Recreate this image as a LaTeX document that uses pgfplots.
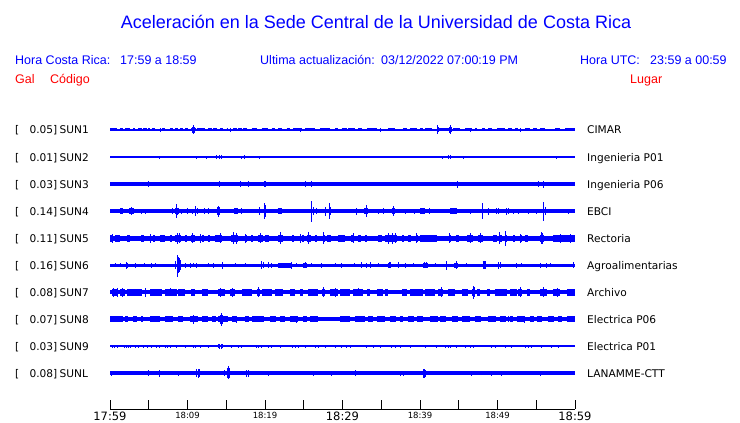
\documentclass[border=0pt]{standalone}
\usepackage{pgfplots}
\pgfplotsset{compat=1.18}
\usepackage{fontspec}
\setmainfont{Liberation Sans}
\newfontfamily\dv{DejaVu Sans}
\newcommand{\fs}[1]{\fontsize{#1}{#1}\selectfont}
\pgfplotsset{
  base/.style={blue, line width=#1, no marks},
  spk/.style={draw=none, no marks, error bars/.cd, y dir=both, y explicit, error mark=none, error bar style={line width=1pt, draw=blue}},
  blk/.style={draw=none, no marks, error bars/.cd, x dir=plus, x explicit, error mark=none, error bar style={line width=#1, draw=blue}},
}
\tikzset{lbl/.style={font=\dv\fs{10.6}, inner sep=0pt, text=black}}
\newcommand{\lab}[4]{%
  \node[lbl, anchor=base west] at (axis cs:15,#1) {[};
  \node[lbl, anchor=base east] at (axis cs:57.5,#1) {#2]};
  \node[lbl, anchor=base west] at (axis cs:59.5,#1) {#3};
  \node[lbl, anchor=base west] at (axis cs:587,#1) {#4};}
\begin{document}
\begin{tikzpicture}
\useasboundingbox (0,0) rectangle (740pt,423pt);
\begin{axis}[at={(0,0)}, anchor=south west, scale only axis, width=740pt, height=423pt,
  xmin=0, xmax=740, ymin=0, ymax=423, y dir=reverse, hide axis, clip=false]
% ---------- SUN1 ----------
\addplot[base=1.2pt] coordinates {(110,130) (575,130)};
\addplot[blk=3pt] table[row sep=\\, x index=0, y expr=130, x error index=1] {
110 6.7\\ 120 3.3\\ 125 5\\ 133.3 1.7\\ 138.3 3.4\\ 143.3 3.4\\ 148.3 1.7\\ 151.7 3.3\\ 161.7 3.3\\ 170 3.3\\ 175 3.3\\ 180 3.3\\ 185 3.3\\ 191 5\\ 196.7 8.3\\ 208.3 3.4\\ 213.3 3.4\\ 220 3.3\\ 226.7 1.6\\ 233.3 3.4\\ 238.3 3.4\\ 243.3 3.4\\ 251.7 5\\ 261.7 6.6\\ 271.7 3.3\\ 278.3 3.4\\ 286.7 3.3\\ 293.3 8.4\\ 305 10\\ 320 10\\ 335 3.3\\ 341.7 5\\ 348 7\\ 358 4\\ 367 10\\ 388 7\\ 403 4\\ 410 7\\ 420 3\\ 425 7\\ 437 13\\ 453 7\\ 465 7\\ 475 2\\ 482 3\\ 488 4\\ 497 8\\ 508 4\\ 515 3\\ 525 5\\ 533 4\\ 540 5\\ 555 5\\ 565 8\\ 572 3\\
};
\addplot[spk] table[row sep=\\, x index=0, y expr=130, y error index=1] {
192 3\\ 193.3 4.5\\ 194.5 3\\ 437.3 4.5\\ 438.5 2.5\\ 449 3\\ 450 4.5\\ 451 2.5\\ 160 2\\ 230 2\\ 300 2\\ 380 2\\ 470 2\\ 520 2\\
};
% ---------- SUN2 ----------
\addplot[base=1.2pt] coordinates {(110,157) (575,157)};
\addplot[spk] table[row sep=\\, x index=0, y expr=157, y error index=1] {
159.3 1.5\\ 196 1.5\\ 206.3 1.5\\ 216.3 2\\ 219 2\\ 221.7 2\\ 241.7 1.5\\ 244.3 2\\ 259.3 1.5\\ 442.3 1.5\\ 448.3 2\\ 450 2\\ 463.3 1.5\\ 556.7 1.5\\
};
% ---------- SUN3 ----------
\addplot[base=4pt] coordinates {(110,184) (575,184)};
\addplot[spk] table[row sep=\\, x index=0, y expr=184, y error index=1] {
148.3 3\\ 219.3 3\\ 240.3 3\\ 248.3 3\\ 264.5 3\\ 265.5 3\\ 305 3\\ 311.7 3.2\\ 457.3 3.5\\ 538.3 3\\ 543.3 3.5\\
};
% ---------- SUN4 ----------
\addplot[base=3.5pt] coordinates {(110,211) (575,211)};
\addplot[blk=6pt] table[row sep=\\, x index=0, y expr=211, x error index=1] {
120 3.3\\ 129 4.5\\ 175 4\\ 234 4\\ 277.7 4\\ 364 4.3\\ 392 2.5\\ 420 5\\ 450 6.7\\
};
\addplot[spk] table[row sep=\\, x index=0, y expr=211, y error index=1] {
131.7 4\\ 141.7 2.5\\ 145 2.5\\ 158.3 2\\ 161.7 2\\ 172.7 3\\ 176 7\\ 177.5 3.5\\ 181.7 2.5\\ 187.7 3\\ 192.3 2.5\\ 195.7 5\\ 197.3 3\\ 204 3\\ 208.3 3\\ 217 4\\ 218.3 5.5\\ 219.5 4\\ 241.7 3\\ 259.7 4\\ 264.3 8\\ 265.5 6\\ 289.3 2\\ 311.7 10.5\\ 313.3 4\\ 316.7 3\\ 325 4.5\\ 329 8\\ 330.5 4\\ 356.7 3.5\\ 366.7 6\\ 378.3 2.5\\ 383.3 3\\ 393.3 5\\ 405 2.5\\ 414 2.5\\ 429.3 3\\ 470.7 2.5\\ 482.3 8\\ 488.3 3.5\\ 496.7 3\\ 498.3 3\\ 506.7 3.5\\ 508.3 3\\ 513.3 2.5\\ 518.3 2.5\\ 528.3 2.5\\ 536.7 2.5\\ 543.3 9.5\\ 545 4\\ 553.3 2\\ 560 2\\ 568.3 2.5\\
};
% ---------- SUN5 ----------
\addplot[base=5pt] coordinates {(110,238) (575,238)};
\addplot[blk=7pt] table[row sep=\\, x index=0, y expr=238, x error index=1] {
110 2\\ 115 5\\ 127 3\\ 141 3\\ 153 2\\ 160 5\\ 170 2\\ 175 6\\ 185 2\\ 191 4\\ 202 2\\ 208 2\\ 215 7\\ 231 7\\ 245 2\\ 251 2\\ 258 5\\ 265 4\\ 278 5\\ 292 2\\ 302 2\\ 307 4\\ 315 2\\ 323 2\\ 327 4\\ 338 3\\ 340 5\\ 351 3\\ 358 3\\ 365 2\\ 378 4\\ 385 12\\ 402 2\\ 408 3\\ 416 2\\ 420 17\\ 449 2\\ 456 3\\ 467 6\\ 478 5\\ 493 4\\ 499 3\\ 505 2\\ 513 2\\ 520 2\\ 525 3\\ 540 4\\ 553 22\\
};
\addplot[spk] table[row sep=\\, x index=0, y expr=238, y error index=1] {
112 4.5\\ 150 4.5\\ 177 5.5\\ 179 5\\ 192 5\\ 200 4.5\\ 220 5\\ 233 6\\ 236 5.5\\ 245 4.5\\ 260 5\\ 280 6\\ 300 4.5\\ 308 6\\ 323 6\\ 353 5\\ 388 5.5\\ 392 5.5\\ 395 5\\ 416 5\\ 449 5\\ 470 5\\ 480 5\\ 499.3 6\\ 505 7.5\\ 520 4.5\\ 541 6\\ 542.5 5.5\\ 560 4.5\\ 570 4.5\\
};
% ---------- SUN6 ----------
\addplot[base=3pt] coordinates {(110,265) (575,265)};
\addplot[blk=5pt] table[row sep=\\, x index=0, y expr=265, x error index=1] {
125.5 2.5\\ 278 14\\ 303 4\\ 388 3\\ 423 5\\ 454 4\\
};
\addplot[blk=8pt] table[row sep=\\, x index=0, y expr=265, x error index=1] {
482.7 3.3\\
};
\addplot[spk] table[row sep=\\, x index=0, y expr=265, y error index=1] {
115.7 2\\ 120 2\\ 126.7 3.5\\ 135 2.5\\ 144.3 2\\ 151 2.5\\ 155 2\\ 175.7 4\\ 178.3 8\\ 179 7\\ 180.3 5\\ 185 2.5\\ 190 2.5\\ 193.3 2\\ 196.7 2.5\\ 208.3 2\\ 213.3 2.5\\ 222.3 3.5\\ 235 2\\ 245 2\\ 261.7 4\\ 263 3\\ 268.3 3\\ 271.7 2.5\\ 291 3.5\\ 296.7 2\\ 305 3\\ 311.7 2\\ 321 2.5\\ 335 2\\ 341.7 2.5\\ 354 2\\ 361.7 3\\ 366 2.5\\ 370.7 3\\ 378.3 2\\ 389 3\\ 390.5 3\\ 398.3 3\\ 405 2.5\\ 413.3 2\\ 424 3\\ 426 3\\ 435.7 2\\ 446 4.5\\ 456 4\\ 466.7 2\\ 498.3 3.5\\ 500 3\\ 516.7 2.5\\ 521.7 2\\ 540 2.5\\ 546 2.5\\ 550.7 2\\ 573.3 3\\
};
\addplot[spk] coordinates {(177.3,266) +- (0,11)};
% ---------- SUN7 ----------
\addplot[base=4pt] coordinates {(110,292) (575,292)};
\addplot[blk=7pt] table[row sep=\\, x index=0, y expr=292, x error index=1] {
112 6\\ 120 5\\ 127 15\\ 145 1\\ 150 12\\ 165 12\\ 178 7\\ 191 4\\ 202 6\\ 218 7\\ 230 5\\ 242 10\\ 257 3\\ 262 10\\ 275 8\\ 290 5\\ 300 3\\ 308 10\\ 322 3\\ 330 8\\ 340 10\\ 353 10\\ 367 3\\ 377 6\\ 385 3\\ 402 5\\ 410 13\\ 425 10\\ 438 5\\ 448 7\\ 462 6\\ 472 3\\ 477 3\\ 487 3\\ 495 12\\ 510 7\\ 518 4\\ 527 3\\ 540 7\\ 553 7\\ 567 8\\
};
\addplot[spk] table[row sep=\\, x index=0, y expr=292, y error index=1] {
113 4.5\\ 117 4.5\\ 122 4.5\\ 145 4.5\\ 170 4\\ 220 4.5\\ 232 4.5\\ 258 5\\ 323 5\\ 335 4.5\\ 358 4\\ 441.7 5\\ 473.3 6.5\\ 474.5 5\\ 520 5\\ 543 5\\ 557 4.5\\
};
% ---------- SUN8 ----------
\addplot[base=4pt] coordinates {(110,319) (575,319)};
\addplot[blk=5.5pt] table[row sep=\\, x index=0, y expr=319, x error index=1] {
110 13\\ 125 3\\ 133 4\\ 141 2\\ 150 10\\ 165 8\\ 178 5\\ 190 8\\ 202 6\\ 212 4\\ 218 10\\ 232 4\\ 245 4\\ 252 12\\ 270 6\\ 280 5\\ 290 8\\ 303 4\\ 310 8\\ 340 10\\ 355 10\\ 368 5\\ 377 8\\ 390 6\\ 400 3\\ 408 6\\ 417 6\\ 430 8\\ 440 6\\ 452 6\\ 462 8\\ 475 6\\ 488 8\\ 500 6\\ 510 3\\ 517 7\\ 530 4\\ 537 5\\ 548 6\\ 558 4\\ 567 8\\
};
\addplot[spk] table[row sep=\\, x index=0, y expr=319, y error index=1] {
193.3 4.5\\ 220 4.5\\ 221 6.5\\ 222 4.5\\ 236.7 3.5\\ 296.7 3.5\\ 508 3\\ 524 3.5\\
};
% ---------- SUN9 ----------
\addplot[base=1.2pt] coordinates {(110,346) (575,346)};
\addplot[blk=2.5pt] table[row sep=\\, x index=0, y expr=346, x error index=1] {
124 6\\ 180 5\\ 290 8\\ 455 10\\ 525 8\\
};
\addplot[spk] table[row sep=\\, x index=0, y expr=346, y error index=1] {
112 1.5\\ 114 1.5\\ 117 1.5\\ 124 1.5\\ 126 1.5\\ 128 1.5\\ 130 1.5\\ 135.7 1.5\\ 138.3 1.5\\ 143.3 1.5\\ 147.7 1.5\\ 151.7 1.5\\ 156.7 1.5\\ 159.3 1.5\\ 165 1.5\\ 167 1.5\\ 170 1.5\\ 176.7 1.5\\ 185 1.5\\ 193.3 1.5\\ 195 1.5\\ 200 1.5\\ 208.3 1.5\\ 218 2\\ 219.5 2.5\\ 221 2.5\\ 222.5 2\\ 231.7 1.5\\ 238.3 1.5\\ 241.7 1.5\\ 256.7 1.5\\ 258 1.5\\ 261.7 1.5\\ 268.3 1.5\\ 271.7 1.5\\ 280 1.5\\ 292 1.5\\ 295 1.5\\ 298 1.5\\ 305 1.5\\ 315 1.5\\ 318 1.5\\ 325 1.5\\ 335 1.5\\ 341.7 1.5\\ 346 1.5\\ 350 1.5\\ 366.7 1.5\\ 373.3 1.5\\ 380 1.5\\ 391.7 1.5\\ 395 1.5\\ 400 1.5\\ 410 1.5\\ 425 1.5\\ 436.7 1.5\\ 445 1.5\\ 448.3 1.5\\ 450 1.5\\ 456.7 1.5\\ 465 1.5\\ 470 1.5\\ 473.3 1.5\\ 491.7 1.5\\ 495 1.5\\ 505 1.5\\ 511.7 1.5\\ 525 1.5\\ 528.3 1.5\\ 531.7 1.5\\ 541.7 1.5\\ 551.7 1.5\\ 558.3 1.5\\
};
% ---------- SUNL ----------
\addplot[base=3.3pt] coordinates {(110,373) (575,373)};
\addplot[spk] table[row sep=\\, x index=0, y expr=373, y error index=1] {
111 2.5\\ 148.3 3\\ 159.3 3.5\\ 178.3 2.5\\ 189.3 2\\ 196.7 4\\ 198 4.5\\ 199.3 4\\ 224.3 3\\ 227.7 5\\ 229.3 5\\ 246.7 3.5\\ 248 3.5\\ 268.3 2.5\\ 285 2\\ 297.7 2\\ 313.3 2.5\\ 331.7 2.5\\ 355 3\\ 370 2\\ 375 2\\ 390.7 2\\ 400 2.5\\ 403.3 2.5\\ 410.7 2\\ 423.3 4.5\\ 424.3 4.5\\ 425 3.5\\ 461.7 2\\ 471.7 2.5\\ 484.3 2\\ 491 2.5\\ 501.7 2.5\\ 540 2.5\\
};
\addplot[spk] coordinates {(228.5,372) +- (0,6.5)};
% ---------- texts ----------
\node[font=\fs{18}, text=blue, inner sep=0pt, anchor=base] at (axis cs:376,29) {Aceleración en la Sede Central de la Universidad de Costa Rica};
\begin{scope}[every node/.style={font=\fs{12.5}, text=blue, inner sep=0pt, anchor=base west}]
\node at (axis cs:15,65) {Hora Costa Rica:};
\node at (axis cs:120,65) {17:59 a 18:59};
\node at (axis cs:260,65) {Ultima actualización:};
\node at (axis cs:381,65) {03/12/2022 07:00:19 PM};
\node at (axis cs:580,65) {Hora UTC:};
\node at (axis cs:650,65) {23:59 a 00:59};
\end{scope}
\begin{scope}[every node/.style={font=\fs{12.5}, text=red, inner sep=0pt, anchor=base west}]
\node at (axis cs:15,84) {Gal};
\node at (axis cs:50,84) {Código};
\node at (axis cs:630,84) {Lugar};
\end{scope}
\lab{134}{0.05}{SUN1}{CIMAR}
\lab{161}{0.01}{SUN2}{Ingenieria P01}
\lab{188}{0.03}{SUN3}{Ingenieria P06}
\lab{215}{0.14}{SUN4}{EBCI}
\lab{242}{0.11}{SUN5}{Rectoria}
\lab{269}{0.16}{SUN6}{Agroalimentarias}
\lab{296}{0.08}{SUN7}{Archivo}
\lab{323}{0.07}{SUN8}{Electrica P06}
\lab{350}{0.03}{SUN9}{Electrica P01}
\lab{377}{0.08}{SUNL}{LANAMME-CTT}
\end{axis}
\begin{axis}[at={(110pt,14pt)}, anchor=south west, scale only axis, width=465pt, height=20pt,
  xmin=0, xmax=60, ymin=0, ymax=1, axis x line=bottom, axis y line=none,
  x axis line style={-, black, line width=0.9pt},
  xtick={0,5,...,60},
  xticklabels={{\fs{11.5}17:59},,{\fs{8.5}18:09},,{\fs{8.5}18:19},,{\fs{11.5}18:29},,{\fs{8.5}18:39},,{\fs{8.5}18:49},,{\fs{11.5}18:59}},
  xtick align=inside, major tick length=9.3pt, tick style={black, line width=0.9pt},
  xticklabel style={font=\dv\fs{11.5}, text=black, inner sep=0pt, anchor=north, yshift=-2.6pt}]
\addplot[draw=none] coordinates {(0,0) (60,0)};
\end{axis}
\end{tikzpicture}
\end{document}
